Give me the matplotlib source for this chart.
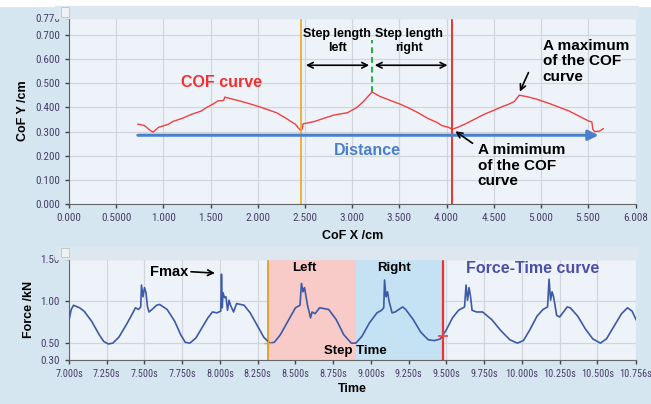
import numpy as np
import matplotlib.pyplot as plt
from matplotlib.patches import Rectangle
from matplotlib import font_manager

# --- COF curve (top panel) ---
cof_x = [0.73, 0.80, 0.86, 0.89, 0.92, 0.95, 1.05, 1.10, 1.20, 1.30, 1.40, 1.45, 1.53, 1.58,
         1.62, 1.64, 1.65, 1.70, 1.80, 1.90, 2.00, 2.10, 2.20, 2.30, 2.40,
         2.45, 2.47, 2.48, 2.60, 2.70, 2.80, 2.90, 2.95, 3.05, 3.12, 3.21, 3.30, 3.40, 3.50,
         3.60, 3.70, 3.80, 3.90, 3.95, 4.02, 4.06,
         4.12, 4.20, 4.30, 4.40, 4.50, 4.60, 4.65, 4.72, 4.77, 4.85, 4.95, 5.10, 5.20, 5.30,
         5.40, 5.50, 5.54, 5.55, 5.57, 5.62, 5.66]
cof_y = [0.331, 0.325, 0.305, 0.298, 0.308, 0.318, 0.330, 0.342, 0.355, 0.372, 0.385, 0.398, 0.415, 0.428,
         0.428, 0.430, 0.443, 0.438, 0.428, 0.417, 0.405, 0.392, 0.378, 0.355, 0.330,
         0.306, 0.310, 0.332, 0.342, 0.355, 0.368, 0.375, 0.378, 0.400, 0.425, 0.464, 0.445, 0.430, 0.415,
         0.398, 0.378, 0.355, 0.338, 0.325, 0.318, 0.310,
         0.318, 0.332, 0.352, 0.372, 0.388, 0.405, 0.412, 0.425, 0.451, 0.445, 0.435, 0.415, 0.400, 0.385,
         0.365, 0.345, 0.340, 0.310, 0.300, 0.302, 0.312]
cof_xticks = [0.0, 0.5, 1.0, 1.5, 2.0, 2.5, 3.0, 3.5, 4.0, 4.5, 5.0, 5.5, 6.008]
cof_xlabels = ["0.000", "0.5000", "1.000", "1.500", "2.000", "2.500", "3.000", "3.500",
               "4.000", "4.500", "5.000", "5.500", "6.008"]
cof_yticks = [0.0, 0.1, 0.2, 0.3, 0.4, 0.5, 0.6, 0.7, 0.77]
cof_ylabels = ["0.000", "0.100", "0.200", "0.300", "0.400", "0.500", "0.600", "0.700", "0.770"]
step_left_x, step_mid_x, step_right_x = 2.46, 3.21, 4.06

# --- Force-time curve (bottom panel) ---
t = [7.00, 7.015, 7.03, 7.07, 7.10, 7.15, 7.20, 7.23, 7.26, 7.29, 7.33, 7.38, 7.42, 7.44,
     7.46, 7.475, 7.48, 7.49, 7.50, 7.51, 7.52, 7.53, 7.55, 7.58, 7.60,
     7.65, 7.70, 7.74, 7.77, 7.80, 7.84, 7.88, 7.92, 7.95, 7.98,
     8.005, 8.01, 8.015, 8.02, 8.03, 8.04, 8.05, 8.06, 8.07, 8.09, 8.11, 8.16,
     8.20, 8.25, 8.29, 8.33, 8.36, 8.40, 8.45, 8.50,
     8.53, 8.54, 8.55, 8.56, 8.58, 8.60, 8.61, 8.63, 8.66, 8.72,
     8.77, 8.82, 8.87, 8.90, 8.94, 8.99, 9.04, 9.07,
     9.085, 9.09, 9.10, 9.11, 9.12, 9.14, 9.16, 9.21, 9.23,
     9.28, 9.33, 9.38, 9.42, 9.46, 9.50, 9.54, 9.58,
     9.62, 9.63, 9.64, 9.65, 9.66, 9.67, 9.70, 9.74,
     9.80, 9.86, 9.92, 9.97, 10.01, 10.05, 10.10, 10.14,
     10.17, 10.18, 10.19, 10.20, 10.21, 10.23, 10.25, 10.30, 10.32,
     10.37, 10.42, 10.47, 10.52, 10.56, 10.61, 10.66, 10.70, 10.73, 10.756]
force = [0.775, 0.90, 0.95, 0.92, 0.88, 0.76, 0.60, 0.52, 0.49, 0.50, 0.57, 0.72, 0.85, 0.92,
         0.90, 0.93, 1.19, 1.05, 1.16, 1.10, 0.93, 0.87, 0.90, 0.95, 0.96,
         0.90, 0.76, 0.60, 0.51, 0.50, 0.56, 0.68, 0.80, 0.87, 0.86,
         0.88, 1.32, 0.92, 1.10, 1.04, 1.05, 0.89, 1.01, 0.95, 0.87, 0.97, 0.95,
         0.86, 0.70, 0.57, 0.50, 0.51, 0.60, 0.76, 0.92,
         0.95, 1.21, 1.11, 1.16, 0.95, 0.80, 0.87, 0.85, 0.92, 0.90,
         0.78, 0.60, 0.50, 0.50, 0.58, 0.74, 0.86, 0.89,
         0.92, 1.25, 1.05, 1.11, 1.00, 0.86, 0.87, 0.93, 0.90,
         0.78, 0.63, 0.54, 0.53, 0.55, 0.66, 0.80, 0.89,
         0.93, 1.19, 1.01, 1.16, 1.05, 0.89, 0.87, 0.87,
         0.78, 0.65, 0.54, 0.50, 0.53, 0.65, 0.82, 0.90,
         0.93, 1.26, 1.01, 1.11, 1.05, 0.83, 0.81, 0.93, 0.92,
         0.82, 0.67, 0.55, 0.50, 0.55, 0.70, 0.85, 0.92, 0.88, 0.78]
t_ticks = [7.0, 7.25, 7.5, 7.75, 8.0, 8.25, 8.5, 8.75, 9.0, 9.25, 9.5, 9.75, 10.0, 10.25, 10.5, 10.756]
t_labels = ["7.000s", "7.250s", "7.500s", "7.750s", "8.000s", "8.250s", "8.500s", "8.750s",
            "9.000s", "9.250s", "9.500s", "9.750s", "10.000s", "10.250s", "10.500s", "10.756s"]
f_ticks = [0.3, 0.5, 1.0, 1.5]
f_labels = ["0.30", "0.50", "1.00", "1.50"]
left_start, left_end, right_end = 8.32, 8.90, 9.48

panel_bg = "#d6e6f0"
plot_bg = "#eef3f9"
tick_col = "#4a3f6a"

names = {f.name for f in font_manager.fontManager.ttflist}
tick_font = "Liberation Sans"
for cand in ["Liberation Sans Narrow", "DejaVu Sans Condensed", "Roboto Condensed"]:
    if cand in names:
        tick_font = cand
        break
plt.rcParams["font.family"] = ["Liberation Sans", "DejaVu Sans"]

fig = plt.figure(figsize=(6.51, 4.04), dpi=100, facecolor=panel_bg)
fig.patches.append(Rectangle((0, 0.985), 1, 0.015, transform=fig.transFigure,
                             color="white", zorder=0))
for y0 in [0.955, 0.359]:
    fig.patches.append(Rectangle((0.085, y0), 0.895, 0.03, transform=fig.transFigure,
                                 color="#dde7ef", zorder=0))
    fig.patches.append(Rectangle((0.093, y0 + 0.004), 0.013, 0.024, transform=fig.transFigure,
                                 facecolor="#eef2f6", edgecolor="#b8c4cc", lw=0.6, zorder=1))


def style(ax, size=8):
    ax.set_facecolor(plot_bg)
    for s in ax.spines.values():
        s.set_visible(False)
    for side in ["left", "bottom"]:
        ax.spines[side].set_visible(True)
        ax.spines[side].set_color("#666666")
    ax.grid(True, color="#d2d6dc", lw=0.9)
    ax.set_axisbelow(True)
    ax.tick_params(colors="#444444", labelcolor=tick_col, labelsize=size, length=3, width=1)
    for lab in ax.get_xticklabels() + ax.get_yticklabels():
        lab.set_fontfamily(tick_font)


# ---------------- top panel ----------------
ax1 = fig.add_axes([0.106, 0.495, 0.871, 0.460])
ax1.set_xlim(0, 6.008)
ax1.set_ylim(0, 0.77)
ax1.set_xticks(cof_xticks)
ax1.set_xticklabels(cof_xlabels)
ax1.set_yticks(cof_yticks)
ax1.set_yticklabels(cof_ylabels)
style(ax1)
ax1.set_xlabel("CoF X /cm", fontsize=9, fontweight="bold", labelpad=5)
ax1.set_ylabel("CoF Y /cm", fontsize=9, fontweight="bold", labelpad=4)

ax1.plot(cof_x, cof_y, color="#f04040", lw=1)
ax1.axvline(step_left_x, color="#e8a820", lw=1.2)
ax1.axvline(step_right_x, color="#f03030", lw=1.4)
ax1.plot([step_mid_x, step_mid_x], [0.464, 0.68], color="#20b040", lw=1.4, ls=(0, (3, 2)))
ax1.annotate("", xy=(step_left_x + 0.02, 0.575), xytext=(step_mid_x, 0.575),
             arrowprops=dict(arrowstyle="<->", color="black", lw=1.2))
ax1.annotate("", xy=(step_right_x - 0.02, 0.575), xytext=(step_mid_x, 0.575),
             arrowprops=dict(arrowstyle="<->", color="black", lw=1.2))
ax1.text(2.84, 0.675, "Step length\nleft", ha="center", va="center", fontsize=9,
         fontweight="bold", linespacing=1.25)
ax1.text(3.60, 0.675, "Step length\nright", ha="center", va="center", fontsize=9,
         fontweight="bold", linespacing=1.25)
ax1.text(1.62, 0.505, "COF curve", color="#f03030", fontsize=11.5, fontweight="bold",
         ha="center", va="center")
ax1.annotate("", xy=(5.64, 0.285), xytext=(0.70, 0.285),
             arrowprops=dict(arrowstyle="-|>,head_length=0.6,head_width=0.3",
                             color="#4a7fcc", lw=2.2))
ax1.text(3.16, 0.222, "Distance", color="#4a7fcc", fontsize=11.5, fontweight="bold",
         ha="center", va="center")
ax1.text(5.02, 0.685, "A maximum\nof the COF\ncurve", fontsize=11, fontweight="bold",
         ha="left", va="top", linespacing=1.15)
ax1.annotate("", xy=(4.765, 0.455), xytext=(4.88, 0.555),
             arrowprops=dict(arrowstyle="->", color="black", lw=1.2))
ax1.text(4.33, 0.252, "A mimimum\nof the COF\ncurve", fontsize=11, fontweight="bold",
         ha="left", va="top", linespacing=1.15)
ax1.annotate("", xy=(4.07, 0.308), xytext=(4.30, 0.245),
             arrowprops=dict(arrowstyle="->", color="black", lw=1.2))

# ---------------- bottom panel ----------------
ax2 = fig.add_axes([0.106, 0.109, 0.871, 0.250])
ax2.set_xlim(7.0, 10.756)
ax2.set_ylim(0.3, 1.5)
ax2.set_xticks(t_ticks)
ax2.set_xticklabels(t_labels)
ax2.set_yticks(f_ticks)
ax2.set_yticklabels(f_labels)
style(ax2)
ax2.tick_params(axis="x", labelsize=7.4)
ax2.set_xlabel("Time", fontsize=9, fontweight="bold", labelpad=3)
ax2.set_ylabel("Force /kN", fontsize=9, fontweight="bold", labelpad=4)

ax2.axvspan(left_start, left_end, color="#f9cbc8", zorder=1)
ax2.axvspan(left_end, right_end, color="#c4e2f4", zorder=1)
ax2.axvline(left_start, color="#e8a030", lw=1.4, zorder=2)
ax2.axvline(right_end, color="#f03030", lw=1.6, zorder=2)
ax2.plot(t, force, color="#3c5aa8", lw=1.2, zorder=3)
ax2.plot([right_end], [0.59], marker="+", ms=7, mew=1.2, color="#f04040", zorder=4)
ax2.plot([left_start], [0.50], marker="+", ms=6, mew=1.0, color="#e8a030", zorder=4)

ax2.text(8.56, 1.39, "Left", fontsize=9.5, fontweight="bold", ha="center", va="center")
ax2.text(9.15, 1.39, "Right", fontsize=9.5, fontweight="bold", ha="center", va="center")
ax2.text(8.90, 0.41, "Step Time", fontsize=9.5, fontweight="bold", ha="center", va="center")
ax2.text(10.07, 1.39, "Force-Time curve", color="#4a50a8", fontsize=11.5, fontweight="bold",
         ha="center", va="center")
ax2.text(7.66, 1.35, "Fmax", fontsize=10.5, fontweight="bold", ha="center", va="center")
ax2.annotate("", xy=(7.985, 1.33), xytext=(7.79, 1.35),
             arrowprops=dict(arrowstyle="->", color="black", lw=1.2))

fig.savefig("out.png", dpi=100, facecolor=fig.get_facecolor())
